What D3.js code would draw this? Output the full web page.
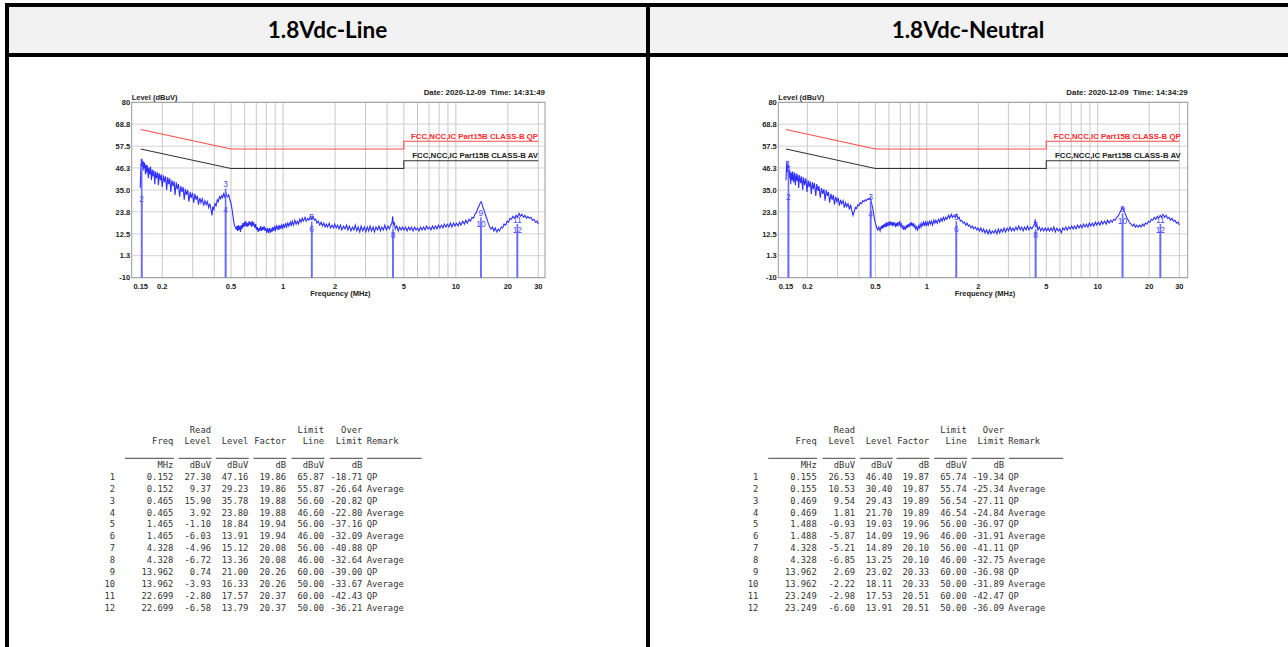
<!DOCTYPE html>
<html lang="en">
<head>
<meta charset="UTF-8">
<title>1.8Vdc Conducted Emission</title>
<script src="https://d3js.org/d3.v7.min.js"></script>
<style>
  body, html { margin: 0; padding: 0; background: #fff; overflow: hidden; }
  svg { display: block; }
  .head { font-family: Lato, 'Open Sans', sans-serif; font-weight: bold; font-size: 22.5px; fill: #000; }
  .ax { font-family: 'Liberation Sans', Arial, sans-serif; font-weight: bold; font-size: 7.5px; fill: #222; }
  .mk { font-family: 'Liberation Sans', Arial, sans-serif; font-size: 8.5px; fill: #4a4aff; }
  .tbl { font-family: 'DejaVu Sans Mono', monospace; font-size: 8.8px; fill: #333; }
</style>
</head>
<body>
<svg id="page"></svg>
<script>
// axis ticks
const yTicks = [80, 68.8, 57.5, 46.3, 35.0, 23.8, 12.5, 1.3, -10];
const yTickLabels = ["80", "68.8", "57.5", "46.3", "35.0", "23.8", "12.5", "1.3", "-10"];
const xTicks = [0.15, 0.2, 0.5, 1, 2, 5, 10, 20, 30];
const xTickLabels = ["0.15", "0.2", "0.5", "1", "2", "5", "10", "20", "30"];
const xGrid = [0.2, 0.3, 0.4, 0.5, 0.6, 0.7, 0.8, 0.9, 1, 2, 3, 4, 5, 6, 7, 8, 9, 10, 20, 30];

// limit lines (MHz, dBuV)
const qpLimit = [[0.15, 66], [0.5, 56], [5, 56], [5, 60], [30, 60]];
const avLimit = [[0.15, 56], [0.5, 46], [5, 46], [5, 50], [30, 50]];
const limitNames = ["FCC,NCC,IC Part15B CLASS-B QP", "FCC,NCC,IC Part15B CLASS-B AV"];

const titles = ["1.8Vdc-Line", "1.8Vdc-Neutral"];
const dates = ["Date: 2020-12-09  Time: 14:31:49", "Date: 2020-12-09  Time: 14:34:29"];

// table
const head1 = ["", "", "Read", "", "", "Limit", "Over", ""];
const head2 = ["", "Freq", "Level", "Level", "Factor", "Line", "Limit", "Remark"];
const units = ["", "MHz", "dBuV", "dBuV", "dB", "dBuV", "dB", ""];

const lineRows = [
  ["1", "0.152", "27.30", "47.16", "19.86", "65.87", "-18.71", "QP"],
  ["2", "0.152", "9.37", "29.23", "19.86", "55.87", "-26.64", "Average"],
  ["3", "0.465", "15.90", "35.78", "19.88", "56.60", "-20.82", "QP"],
  ["4", "0.465", "3.92", "23.80", "19.88", "46.60", "-22.80", "Average"],
  ["5", "1.465", "-1.10", "18.84", "19.94", "56.00", "-37.16", "QP"],
  ["6", "1.465", "-6.03", "13.91", "19.94", "46.00", "-32.09", "Average"],
  ["7", "4.328", "-4.96", "15.12", "20.08", "56.00", "-40.88", "QP"],
  ["8", "4.328", "-6.72", "13.36", "20.08", "46.00", "-32.64", "Average"],
  ["9", "13.962", "0.74", "21.00", "20.26", "60.00", "-39.00", "QP"],
  ["10", "13.962", "-3.93", "16.33", "20.26", "50.00", "-33.67", "Average"],
  ["11", "22.699", "-2.80", "17.57", "20.37", "60.00", "-42.43", "QP"],
  ["12", "22.699", "-6.58", "13.79", "20.37", "50.00", "-36.21", "Average"]
];
const neutralRows = [
  ["1", "0.155", "26.53", "46.40", "19.87", "65.74", "-19.34", "QP"],
  ["2", "0.155", "10.53", "30.40", "19.87", "55.74", "-25.34", "Average"],
  ["3", "0.469", "9.54", "29.43", "19.89", "56.54", "-27.11", "QP"],
  ["4", "0.469", "1.81", "21.70", "19.89", "46.54", "-24.84", "Average"],
  ["5", "1.488", "-0.93", "19.03", "19.96", "56.00", "-36.97", "QP"],
  ["6", "1.488", "-5.87", "14.09", "19.96", "46.00", "-31.91", "Average"],
  ["7", "4.328", "-5.21", "14.89", "20.10", "56.00", "-41.11", "QP"],
  ["8", "4.328", "-6.85", "13.25", "20.10", "46.00", "-32.75", "Average"],
  ["9", "13.962", "2.69", "23.02", "20.33", "60.00", "-36.98", "QP"],
  ["10", "13.962", "-2.22", "18.11", "20.33", "50.00", "-31.89", "Average"],
  ["11", "23.249", "-2.98", "17.53", "20.51", "60.00", "-42.47", "QP"],
  ["12", "23.249", "-6.60", "13.91", "20.51", "50.00", "-36.09", "Average"]
];

// scan traces (MHz, dBuV)
const lineTrace = [
  [0.149,36],[0.150,44],[0.151,49],[0.152,51],[0.153,47],[0.154,50],[0.155,45],[0.156,49.5],[0.157,46],[0.158,49],
  [0.160,43],[0.161,48],[0.163,44],[0.164,47.5],[0.166,41],[0.167,46.5],[0.169,43],[0.171,47],[0.173,40],[0.175,45.5],
  [0.177,42],[0.179,45],[0.181,38],[0.183,44.5],[0.185,41],[0.188,44],[0.190,37.5],[0.192,43.5],[0.195,40],[0.197,43],
  [0.200,36.5],[0.203,42.5],[0.206,39],[0.209,42],[0.212,35],[0.215,41.5],[0.218,38],[0.221,41],[0.224,34],[0.227,40],
  [0.231,37],[0.234,39.5],[0.237,32.5],[0.241,39],[0.244,35.5],[0.248,38],[0.252,31.5],[0.256,37],[0.260,34],[0.264,36.5],
  [0.268,30],[0.272,35.5],[0.276,32.5],[0.281,35],[0.285,29],[0.290,34],[0.294,31],[0.299,33.5],[0.304,28.5],[0.309,33],
  [0.314,30],[0.319,32],[0.324,27.5],[0.330,31],[0.335,28.5],[0.341,30.5],[0.347,27],[0.353,29.5],[0.359,27.5],[0.365,29],
  [0.371,26],[0.377,28],[0.383,25],[0.388,22],[0.392,26.5],[0.398,25],[0.404,28],[0.410,27],[0.416,30],[0.422,29],
  [0.428,31.5],[0.434,30.5],[0.440,32],[0.446,31],[0.452,33],[0.458,31.5],[0.465,34],[0.472,32],[0.478,31.5],[0.485,32.5],
  [0.492,30],[0.500,28],[0.507,25],[0.514,21],[0.521,17.5],[0.528,16],[0.536,15],
  [0.541,16.5],[0.546,14],[0.551,17],[0.556,14.5],[0.562,16.5],[0.567,13.5],[0.573,17],[0.579,15],[0.585,18],[0.591,16],
  [0.597,18.5],[0.603,16.5],[0.609,19],[0.616,16],[0.622,18],[0.629,16.5],[0.636,19],[0.643,17],[0.650,18.5],[0.657,16],
  [0.664,19],[0.671,17],[0.678,18],[0.686,15.5],[0.694,17.5],[0.702,14.5],[0.710,16],[0.718,13.5],[0.726,15.5],[0.734,14],
  [0.742,16.5],[0.751,14],[0.760,16],[0.768,14.5],[0.777,16.5],[0.786,14],[0.795,15.5],[0.804,13],[0.813,15],[0.823,13.5],
  [0.832,15.5],[0.842,13],[0.852,15],[0.862,13.5],[0.872,16],[0.882,14],[0.893,16],[0.903,14.5],[0.914,16.5],[0.925,15],
  [0.936,16.5],[0.947,14.5],[0.958,17],[0.970,15],[0.982,17],[0.994,15.5],
  [1.006,17.5],[1.02,15.5],[1.035,18],[1.05,16],[1.065,18],[1.08,16.5],[1.10,18.5],[1.115,16.5],[1.13,19],[1.15,17],
  [1.17,19.5],[1.19,17.5],[1.21,19],[1.23,17.5],[1.25,20],[1.27,18.5],[1.29,20.5],[1.31,19],[1.34,21],[1.36,19],
  [1.39,20.5],[1.41,19.5],[1.44,21.5],[1.465,20],[1.49,21.5],[1.52,19.5],[1.545,20],[1.57,18],[1.60,19],[1.63,17],
  [1.66,18.5],[1.69,16.5],[1.72,18],[1.75,16],[1.78,17.5],[1.81,16],[1.85,18],[1.88,15.5],[1.92,17],[1.96,15.5],[1.99,17.5],
  [2.03,15.5],[2.07,17],[2.11,15],[2.15,17],[2.19,14.5],[2.24,16.5],[2.28,15],[2.33,17],[2.37,14.5],[2.42,16.5],
  [2.47,14],[2.52,16],[2.57,14.5],[2.62,17],[2.67,14],[2.72,16],[2.78,13.5],[2.83,16.5],[2.89,14],[2.95,16],
  [3.01,13.5],[3.07,16],[3.13,14],[3.19,16.5],[3.25,14],[3.32,16],[3.38,13.5],[3.45,16],[3.52,14.5],[3.59,16.5],
  [3.66,14],[3.73,16],[3.81,14.5],[3.88,17],[3.96,14.5],[4.04,16.5],[4.12,15],[4.20,17],[4.27,18],[4.31,21.5],
  [4.35,17],[4.40,18.5],[4.46,15],[4.55,16.5],[4.64,14],[4.73,16],[4.83,14.5],[4.92,16],
  [5.02,14.5],[5.12,16],[5.22,14],[5.33,16],[5.43,14.5],[5.54,16],[5.65,14],[5.77,16],[5.88,14.5],[6.0,15.5],
  [6.12,14],[6.24,16],[6.37,14.5],[6.5,16],[6.63,14.5],[6.76,16.5],[6.9,15],[7.04,16],[7.18,14.5],[7.32,16.5],
  [7.47,15],[7.62,16.5],[7.77,15],[7.93,17],[8.09,15.5],[8.25,17],[8.42,15.5],[8.58,17.5],[8.76,16],[8.93,17.5],
  [9.11,16],[9.3,18],[9.48,16],[9.68,18],[9.87,16.5],
  [10.07,18],[10.3,16.5],[10.5,18.5],[10.7,17],[10.95,19],[11.2,17.5],[11.4,19.5],[11.65,18],[11.9,20],[12.15,19],
  [12.4,21],[12.65,20.5],[12.9,22.5],[13.15,23.5],[13.4,25.5],[13.65,27],[13.85,28.5],[14.0,29],[14.15,28],[14.35,26],
  [14.6,24.5],[14.85,22],[15.1,20.5],[15.4,18],[15.7,16],[16.0,15],[16.3,16],[16.6,14],[16.9,15.5],[17.25,13.5],
  [17.6,15],[17.9,14],[18.3,16],[18.65,15.5],[19.0,17.5],[19.4,17],[19.8,19],[20.2,18.5],[20.6,20.5],[21.0,20],
  [21.4,21.5],[21.85,20.5],[22.3,22],[22.7,21],[23.2,23],[23.6,21.5],[24.1,22.5],[24.6,21],[25.1,22],[25.6,20.5],
  [26.1,21.5],[26.6,20.5],[27.2,21],[27.7,19.5],[28.3,20],[28.9,18.5],[29.5,19],[30.0,17.5]
];
const neutralTrace = [
  [0.150,40],[0.151,47],[0.152,50],[0.153,44],[0.154,48],[0.155,42],[0.156,47],[0.157,41],[0.158,45],[0.160,38],
  [0.161,44],[0.163,40],[0.164,44.5],[0.166,39],[0.168,44],[0.170,37.5],[0.172,43.5],[0.174,39.5],[0.176,43],[0.178,36],
  [0.180,42.5],[0.183,38.5],[0.185,42],[0.188,35],[0.190,41.5],[0.193,37.5],[0.196,41],[0.199,34],[0.202,40],[0.205,36.5],
  [0.208,39.5],[0.211,33],[0.214,39],[0.217,35.5],[0.220,38.5],[0.224,32],[0.227,38],[0.231,34.5],[0.234,37],[0.238,31],
  [0.242,36],[0.246,33],[0.250,35.5],[0.254,29.5],[0.258,35],[0.262,32],[0.266,34],[0.270,28.5],[0.275,33],[0.279,30],
  [0.284,32.5],[0.288,27.5],[0.293,31.5],[0.298,29],[0.303,31],[0.308,27],[0.313,30],[0.318,28],[0.324,29.5],[0.329,26],
  [0.335,28.5],[0.340,26.5],[0.346,28],[0.352,25],[0.358,27.5],[0.364,24.5],[0.370,22],[0.376,24],[0.382,26],[0.388,25.5],
  [0.395,27.5],[0.401,27],[0.408,28.5],[0.415,28],[0.422,29.5],[0.429,29],[0.436,30],[0.443,29.5],[0.450,30.5],[0.458,30],
  [0.465,31],[0.470,30],[0.476,28],[0.484,25],[0.492,21],[0.500,18],[0.508,16],[0.516,14.5],[0.524,16],[0.533,14],
  [0.541,16.5],[0.546,15],[0.551,17],[0.556,15.5],[0.562,17.5],[0.567,16],[0.573,18],[0.579,16],[0.585,18.5],[0.591,16.5],
  [0.597,18],[0.603,17],[0.609,19],[0.616,17],[0.622,18.5],[0.629,16.5],[0.636,18.5],[0.643,17],[0.650,18],[0.657,16],
  [0.664,18],[0.671,16.5],[0.678,18.5],[0.686,17],[0.694,19],[0.702,16.5],[0.710,17.5],[0.718,15.5],[0.726,16.5],[0.734,14.5],
  [0.742,16],[0.751,15],[0.760,17],[0.768,15.5],[0.777,17.5],[0.786,16],[0.795,18],[0.804,16.5],[0.813,18.5],[0.823,16.5],
  [0.832,18],[0.842,16],[0.852,17],[0.862,15],[0.872,16],[0.882,14.5],[0.893,16.5],[0.903,15.5],[0.914,17.5],[0.925,16],
  [0.936,18],[0.947,16.5],[0.958,18.5],[0.970,17],[0.982,18.5],[0.994,16.5],
  [1.006,18.5],[1.02,17],[1.035,19],[1.05,17.5],[1.065,19],[1.08,17],[1.10,19.5],[1.115,18],[1.13,19.5],[1.15,18],
  [1.17,20],[1.19,18.5],[1.21,20.5],[1.23,19],[1.25,21],[1.27,19.5],[1.29,21],[1.31,20],[1.34,22],[1.36,20.5],
  [1.39,22.5],[1.41,21],[1.44,22],[1.465,21],[1.49,22.5],[1.52,20.5],[1.545,21],[1.57,19],[1.60,19.5],[1.63,18],
  [1.66,18.5],[1.69,17],[1.72,18],[1.75,16.5],[1.78,17],[1.81,15.5],[1.85,16.5],[1.88,15],[1.92,16],[1.96,14.5],[1.99,15.5],
  [2.03,14],[2.07,15.5],[2.11,13.5],[2.15,15],[2.19,13],[2.24,14.5],[2.28,12.5],[2.33,14.5],[2.37,12.5],[2.42,14],
  [2.47,13],[2.52,14.5],[2.57,12.5],[2.62,15],[2.67,13],[2.72,15],[2.78,13.5],[2.83,15.5],[2.89,13.5],[2.95,15.5],
  [3.01,14],[3.07,16],[3.13,14],[3.19,15.5],[3.25,14],[3.32,16],[3.38,14.5],[3.45,16.5],[3.52,14.5],[3.59,16],
  [3.66,14],[3.73,16],[3.81,14.5],[3.88,16.5],[3.96,14.5],[4.04,16],[4.12,15],[4.20,16.5],[4.27,17.5],[4.31,20],
  [4.35,16],[4.40,17.5],[4.46,14.5],[4.55,16],[4.64,14],[4.73,15.5],[4.83,14],[4.92,15.5],
  [5.02,14],[5.12,15.5],[5.22,14],[5.33,15.5],[5.43,14],[5.54,16],[5.65,13.5],[5.77,15.5],[5.88,14],[6.0,15],
  [6.12,13],[6.24,15.5],[6.37,14.5],[6.5,16],[6.63,14.5],[6.76,16],[6.9,15],[7.04,16.5],[7.18,15],[7.32,16.5],
  [7.47,15],[7.62,17],[7.77,15.5],[7.93,17],[8.09,15.5],[8.25,17.5],[8.42,16],[8.58,17.5],[8.76,16],[8.93,18],
  [9.11,16.5],[9.3,18],[9.48,16.5],[9.68,18.5],[9.87,17],
  [10.07,18.5],[10.3,17],[10.5,19],[10.7,17.5],[10.95,19],[11.2,17.5],[11.4,19.5],[11.65,18],[11.9,19.5],[12.15,18.5],
  [12.4,20],[12.65,19.5],[12.9,21],[13.15,21.5],[13.4,23],[13.65,24.5],[13.85,25.5],[14.0,26],[14.15,25],[14.35,23.5],
  [14.6,22],[14.85,20.5],[15.1,19.5],[15.4,18],[15.7,17.5],[16.0,16.5],[16.3,17.5],[16.6,16],[16.9,17],[17.25,16],
  [17.6,17],[17.9,16],[18.3,17.5],[18.65,16.5],[19.0,18],[19.4,17.5],[19.8,19],[20.2,18.5],[20.6,20],[21.0,19.5],
  [21.4,21],[21.85,20],[22.3,21.5],[22.7,20.5],[23.2,22],[23.6,21],[24.1,22.5],[24.6,21],[25.1,22],[25.6,20.5],
  [26.1,21],[26.6,19.5],[27.2,20.5],[27.7,19],[28.3,19.5],[28.9,18],[29.5,18.5],[30.0,17]
];

const width = 1288, height = 647;
const svg = d3.select("#page").attr("width", width).attr("height", height);

// table frame: header cells, borders
svg.append("rect").attr("x", 9).attr("y", 7).attr("width", 637).attr("height", 46).attr("fill", "#f2f2f2");
svg.append("rect").attr("x", 650).attr("y", 7).attr("width", 638).attr("height", 46).attr("fill", "#f2f2f2");
[[5, 3, 1283, 4], [5, 53, 1283, 4], [5, 3, 4, 644], [646, 3, 4, 644]].forEach(b => {
  svg.append("rect").attr("x", b[0]).attr("y", b[1]).attr("width", b[2]).attr("height", b[3]).attr("fill", "#000");
});

const panels = [
  { title: titles[0], cx: 327.5, date: dates[0], trace: lineTrace, rows: lineRows,
    frame: [131.7, 545], xr: [140.7, 538.3],
    cols: [115, 173.3, 211, 248.3, 286, 324, 362.3, 366.7] },
  { title: titles[1], cx: 968, date: dates[1], trace: neutralTrace, rows: neutralRows,
    frame: [778.3, 1187.7], xr: [786, 1179.3],
    cols: [758.3, 816.7, 855, 892.3, 929, 966.7, 1004, 1008.3] }
];

const plotTop = 102.3, plotBot = 277.7;

panels.forEach(p => {
  svg.append("text").attr("class", "head").attr("x", p.cx).attr("y", 38)
    .attr("text-anchor", "middle").text(p.title);

  const x = d3.scaleLog().domain([0.15, 30]).range(p.xr);
  const y = d3.scaleLinear().domain([-10, 80]).range([plotBot, plotTop]);
  const g = svg.append("g");

  // grid
  g.selectAll(".hg").data(yTicks).enter().append("line")
    .attr("x1", p.frame[0]).attr("x2", p.frame[1])
    .attr("y1", d => y(d)).attr("y2", d => y(d))
    .attr("stroke", "#d2d2d2").attr("stroke-width", 1);
  g.selectAll(".vg").data(xGrid).enter().append("line")
    .attr("x1", d => x(d)).attr("x2", d => x(d))
    .attr("y1", plotTop).attr("y2", plotBot)
    .attr("stroke", "#c8c8c8").attr("stroke-width", 1);
  g.append("rect").attr("x", p.frame[0]).attr("y", plotTop)
    .attr("width", p.frame[1] - p.frame[0]).attr("height", plotBot - plotTop)
    .attr("fill", "none").attr("stroke", "#9a9a9a").attr("stroke-width", 1);

  // tick labels
  g.selectAll(".yl").data(yTicks).enter().append("text").attr("class", "ax")
    .attr("x", p.frame[0] - 1.5).attr("y", d => y(d) + 2.7)
    .attr("text-anchor", "end").text((d, i) => yTickLabels[i]);
  g.selectAll(".xl").data(xTicks).enter().append("text").attr("class", "ax")
    .attr("x", d => x(d)).attr("y", 289)
    .attr("text-anchor", "middle").text((d, i) => xTickLabels[i]);
  g.append("text").attr("class", "ax").attr("x", (p.frame[0] + p.frame[1]) / 2 + 2).attr("y", 296)
    .attr("text-anchor", "middle").text("Frequency (MHz)");
  g.append("text").attr("class", "ax").attr("x", p.frame[0]).attr("y", 100).text("Level (dBuV)");
  g.append("text").attr("class", "ax").attr("x", p.frame[1]).attr("y", 95)
    .attr("text-anchor", "end").style("white-space", "pre").style("font-size", "7.9px").text(p.date);

  // limit lines
  const line = d3.line().x(d => x(d[0])).y(d => y(d[1]));
  g.append("path").attr("d", line(qpLimit)).attr("fill", "none").attr("stroke", "#ff4a4a").attr("stroke-width", 1.1);
  g.append("path").attr("d", line(avLimit)).attr("fill", "none").attr("stroke", "#333").attr("stroke-width", 1.1);
  g.append("text").attr("class", "ax").attr("x", p.frame[1] - 7).attr("y", y(60) - 2.5)
    .attr("text-anchor", "end").style("fill", "#ff2a2a").style("font-size", "7.8px").text(limitNames[0]);
  g.append("text").attr("class", "ax").attr("x", p.frame[1] - 7).attr("y", y(50) - 2.5)
    .attr("text-anchor", "end").style("font-size", "7.8px").text(limitNames[1]);

  // trace
  g.append("path").attr("d", line(p.trace)).attr("fill", "none")
    .attr("stroke", "#3030ff").attr("stroke-width", 1.1);

  // markers (QP/Average pairs share a frequency)
  const mk = p.rows.map(r => ({ n: r[0], f: +r[1], v: +r[3], qp: r[7] === "QP" }));
  mk.forEach((d, i) => {
    d.ty = y(d.v) + (d.qp ? -1 : 1);
    if (!d.qp && i > 0 && d.ty - mk[i - 1].ty < 10) d.ty = mk[i - 1].ty + 10;
  });
  g.selectAll(".ml").data(mk).enter().append("line")
    .attr("x1", d => x(d.f)).attr("x2", d => x(d.f))
    .attr("y1", plotBot).attr("y2", d => y(d.v))
    .attr("stroke", "#6a6aff").attr("stroke-width", 1.6);
  g.selectAll(".mt").data(mk).enter().append("text").attr("class", "mk")
    .attr("x", d => x(d.f)).attr("y", d => d.ty)
    .attr("text-anchor", "middle").text(d => d.n);

  // result table
  const tg = svg.append("g").attr("class", "tbl");
  const c = p.cols;
  const anchorOf = i => (i === 7 ? "start" : "end");
  [[head1, 432.5], [head2, 444.3], [units, 467.5]].forEach(([arr, yy]) => {
    arr.forEach((t, i) => {
      if (!t) return;
      tg.append("text").attr("x", c[i]).attr("y", yy).attr("text-anchor", anchorOf(i)).text(t);
    });
  });
  const ul = [null, [c[1] - 48.5, c[1] + 0.5]];
  for (let i = 2; i <= 6; i++) ul.push([c[i] - 32.5, c[i] + 0.5]);
  ul.push([c[7] + 0.5, c[7] + 55]);
  ul.forEach(u => {
    if (!u) return;
    tg.append("line").attr("x1", u[0]).attr("x2", u[1]).attr("y1", 458.3).attr("y2", 458.3)
      .attr("stroke", "#444").attr("stroke-width", 1);
  });
  p.rows.forEach((r, j) => {
    r.forEach((t, i) => {
      tg.append("text").attr("x", c[i]).attr("y", 479.8 + j * 11.9)
        .attr("text-anchor", anchorOf(i)).text(t);
    });
  });
});
</script>
</body>
</html>
